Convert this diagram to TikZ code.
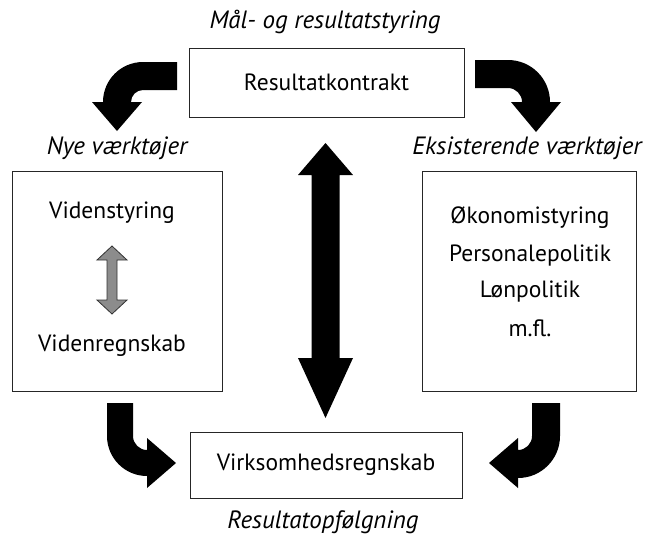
\documentclass[tikz,border=0pt]{standalone}
\usepackage{fontspec}
\setmainfont{PT Sans}
\begin{document}
\begin{tikzpicture}[x=1pt,y=-1pt,
  box/.style={draw=black!85, line width=1pt, fill=white, inner sep=0pt},
  lbl/.style={font=\fontsize{23.5}{26}\selectfont, inner sep=0pt},
  captext/.style={font=\itshape\fontsize{25}{28}\selectfont, inner sep=0pt},
  bigarrow/.style={fill=black, draw=none},
  smallarrow/.style={fill=black!45, draw=black!80, line width=0.8pt}]
\useasboundingbox (0,0) rectangle (650,539);

% boxes
\node[box, minimum width=275pt, minimum height=69pt] (kontrakt) at (326.5,82.5) {};
\node[box, minimum width=210pt, minimum height=220pt] (nye) at (117,281) {};
\node[box, minimum width=214pt, minimum height=220pt] (eks) at (529,281) {};
\node[box, minimum width=272pt, minimum height=66pt] (regnskab) at (326,465) {};

% box texts
\node[lbl] (tkontrakt) at (kontrakt.center) {Resultatkontrakt};
\node[lbl] (tregnskab) at (regnskab.center) {Virksomhedsregnskab};
\node[lbl] (vstyr) at (112,213) {Videnstyring};
\node[lbl] (vregn) at (112,346) {Videnregnskab};
\node[lbl] (oko) at (530,218) {Økonomistyring};
\node[lbl] (pers) at (530,256) {Personalepolitik};
\node[lbl] (lon) at (530,292) {Lønpolitik};
\node[lbl] (mfl) at (530,328) {m.fl.};

% captions
\node[captext] (maal) at (325,22) {Mål- og resultatstyring};
\node[captext] (nyev) at (117,148) {Nye værktøjer};
\node[captext] (eksv) at (527,148) {Eksisterende værktøjer};
\node[captext] (opf) at (323,522) {Resultatopfølgning};

% grey double arrow between the two knowledge tools
\path[smallarrow] (112,246) -- (127,260) -- (117,260) -- (117,300) -- (127,300)
  -- (112,314) -- (97,300) -- (107,300) -- (107,260) -- (97,260) -- cycle;

% central double arrow
\path[bigarrow] (325.5,143) -- (353,175) -- (339.5,175) -- (339.5,358) -- (353,358)
  -- (325.5,418) -- (298,358) -- (311.5,358) -- (311.5,175) -- (298,175) -- cycle;

% bent arrow, top left
\path[bigarrow] (177,62) -- (143,62)
  .. controls (120.9,62) and (103,79.9) .. (103,102)
  -- (92,102) -- (117,131) -- (142,102) -- (131,102)
  .. controls (131,95.4) and (136.4,90) .. (143,90)
  -- (177,90) -- cycle;

% bent arrow, top right
\path[bigarrow] (475,60) -- (508,60)
  .. controls (531.2,60) and (550,78.8) .. (550,102)
  -- (561,102) -- (536,132) -- (511,102) -- (522,102)
  .. controls (522,94.3) and (515.7,88) .. (508,88)
  -- (475,88) -- cycle;

% bent arrow, bottom left
\path[bigarrow] (107,403) -- (107,436)
  .. controls (107,458.1) and (124.9,476) .. (147,476)
  -- (147,488) -- (176,463) -- (147,438) -- (147,450)
  .. controls (139.3,450) and (133,443.7) .. (133,436)
  -- (133,403) -- cycle;

% bent arrow, bottom right
\path[bigarrow] (560,403) -- (560,436)
  .. controls (560,459.2) and (541.2,478) .. (518,478)
  -- (518,488) -- (489,463) -- (518,438) -- (518,450)
  .. controls (525.7,450) and (532,443.7) .. (532,436)
  -- (532,403) -- cycle;
\end{tikzpicture}
\end{document}
